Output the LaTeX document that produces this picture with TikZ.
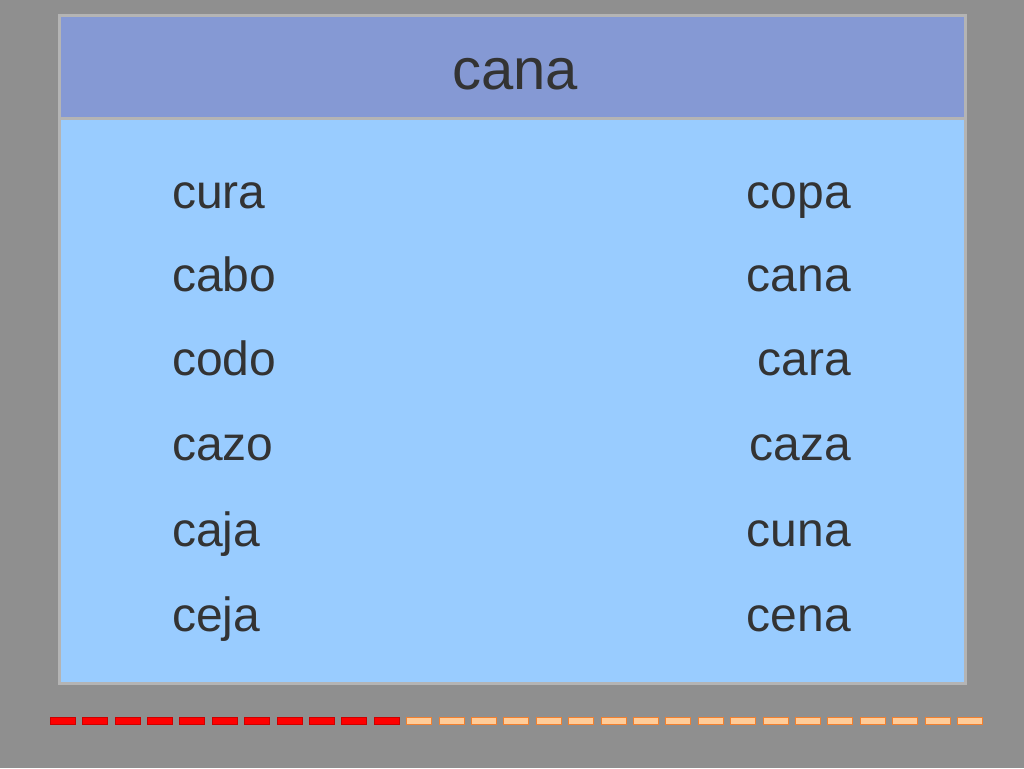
\documentclass[tikz,border=0pt]{standalone}
\usepackage{fontspec}
\setmainfont{Liberation Sans}
\definecolor{bg}{HTML}{8F8F8F}
\definecolor{hdr}{HTML}{8599D4}
\definecolor{bdy}{HTML}{99CCFF}
\definecolor{frm}{HTML}{B4B4B4}
\definecolor{txt}{HTML}{333333}
\definecolor{og}{HTML}{FFCC99}
\definecolor{ogb}{HTML}{F08030}
\begin{document}
\begin{tikzpicture}[x=1pt,y=-1pt,
  word/.style={text=txt,font=\fontsize{48}{50}\selectfont,inner sep=0pt,anchor=base west},
  rword/.style={word,anchor=base east},
  rd/.style={fill=red,draw=red!80!black,line width=0.6pt},
  od/.style={fill=og,draw=ogb,line width=0.6pt}]
\fill[bg] (0,0) rectangle (1024,768);
\useasboundingbox (0,0) rectangle (1024,768);
\fill[bdy] (59,16) rectangle (965,683);
\fill[hdr] (59,16) rectangle (965,118);
\draw[frm,line width=3pt] (59,118) -- (965,118);
\draw[frm,line width=3pt] (59,16) rectangle (965,683);
\node[text=txt,font=\fontsize{58}{60}\selectfont,inner sep=0pt,anchor=base] (title) at (515,89) {cana};
\foreach \w/\y [count=\i] in {cura/208,cabo/291,codo/375,cazo/460,caja/546,ceja/631}
  \node[word] (l\i) at (172,\y) {\w};
\foreach \w/\y [count=\i] in {copa/208,cana/291,cara/375,caza/460,cuna/546,cena/631}
  \node[rword] (r\i) at (851,\y) {\w};
\foreach \i in {0,...,10}
  \draw[rd] ({50+32.4*\i},717) rectangle ({75+32.4*\i},724);
\foreach \i in {11,...,28}
  \draw[od] ({50+32.4*\i},717) rectangle ({75+32.4*\i},724);
\end{tikzpicture}
\end{document}
